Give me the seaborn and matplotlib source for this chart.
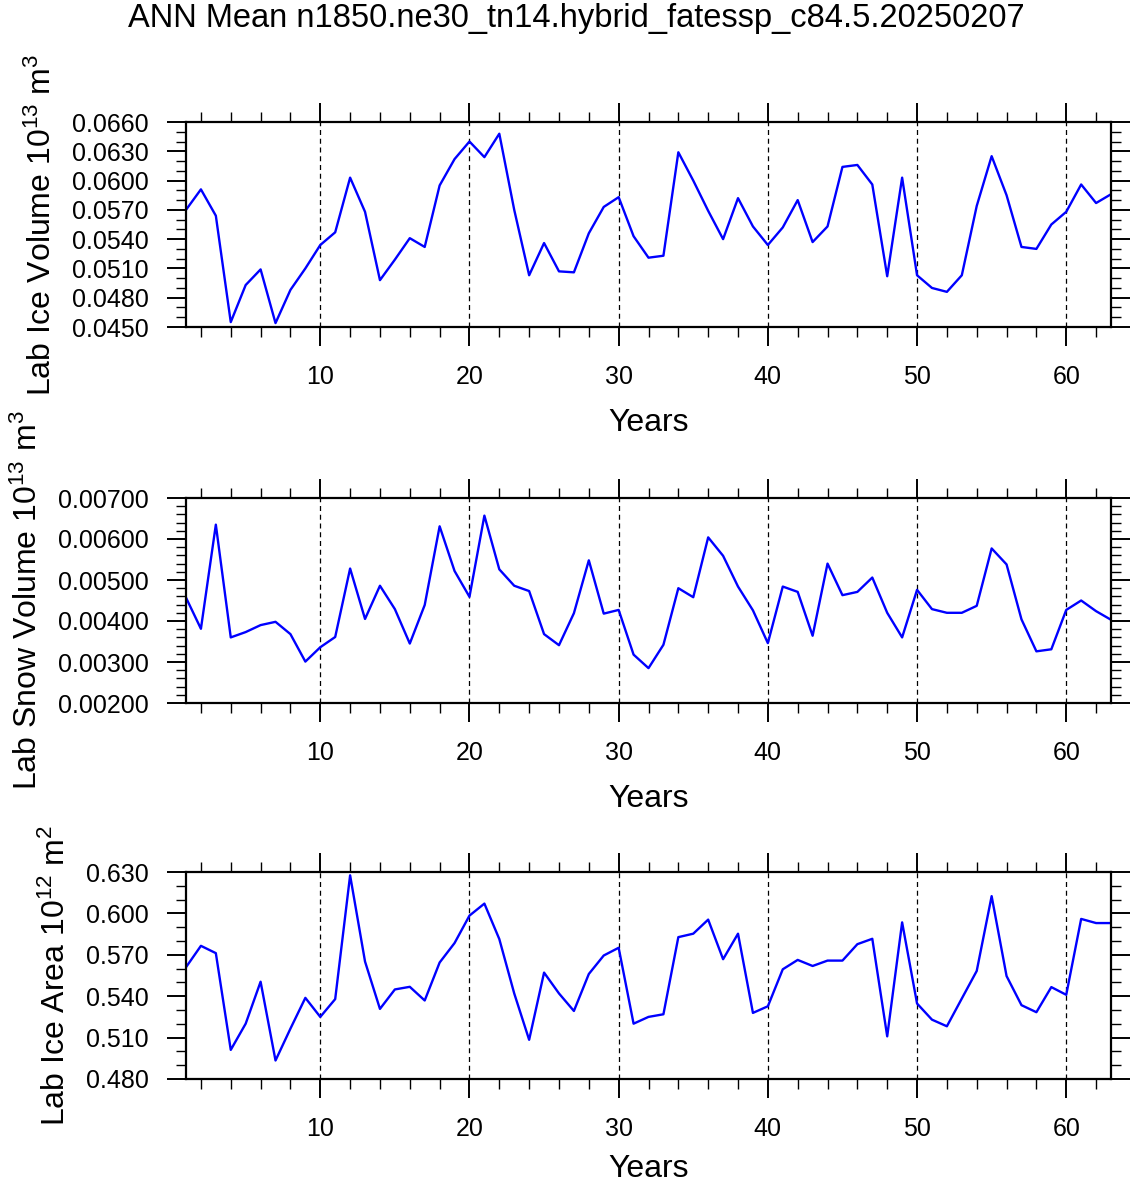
import numpy as np
import matplotlib
matplotlib.use("Agg")
import matplotlib.pyplot as plt
from matplotlib.ticker import FormatStrFormatter
import seaborn as sns

title = "ANN Mean n1850.ne30_tn14.hybrid_fatessp_c84.5.20250207"

years = list(range(1, 64))

ice_volume = [
    0.0570, 0.0591, 0.0564, 0.0455, 0.0493, 0.0509, 0.0454, 0.0488, 0.0510, 0.0534,
    0.0547, 0.0603, 0.0568, 0.0498, 0.0519, 0.0541, 0.0532, 0.0595, 0.0622, 0.0640,
    0.0624, 0.0648, 0.0570, 0.0503, 0.0536, 0.0507, 0.0506, 0.0546, 0.0573, 0.0583,
    0.0543, 0.0521, 0.0523, 0.0629, 0.0600, 0.0569, 0.0540, 0.0582, 0.0553, 0.0534,
    0.0552, 0.0580, 0.0537, 0.0553, 0.0614, 0.0616, 0.0596, 0.0502, 0.0603, 0.0503,
    0.0490, 0.0486, 0.0503, 0.0574, 0.0625, 0.0585, 0.0532, 0.0530, 0.0555, 0.0568,
    0.0596, 0.0577, 0.0586,
]

snow_volume = [
    0.00457, 0.00381, 0.00635, 0.00360, 0.00373, 0.00390, 0.00398, 0.00368, 0.00301, 0.00336,
    0.00361, 0.00528, 0.00405, 0.00486, 0.00429, 0.00345, 0.00439, 0.00631, 0.00522, 0.00459,
    0.00657, 0.00526, 0.00486, 0.00473, 0.00368, 0.00341, 0.00419, 0.00548, 0.00418, 0.00427,
    0.00318, 0.00285, 0.00342, 0.00480, 0.00458, 0.00604, 0.00559, 0.00484, 0.00426, 0.00346,
    0.00484, 0.00471, 0.00364, 0.00540, 0.00463, 0.00471, 0.00506, 0.00420, 0.00360, 0.00476,
    0.00429, 0.00420, 0.00420, 0.00437, 0.00577, 0.00538, 0.00404, 0.00326, 0.00331, 0.00427,
    0.00450, 0.00424, 0.00403,
]

ice_area = [
    0.5610, 0.5765, 0.5712, 0.5011, 0.5201, 0.5505, 0.4934, 0.5165, 0.5388, 0.5250,
    0.5379, 0.6276, 0.5651, 0.5308, 0.5449, 0.5468, 0.5369, 0.5644, 0.5785, 0.5984,
    0.6071, 0.5814, 0.5420, 0.5084, 0.5571, 0.5420, 0.5293, 0.5561, 0.5695, 0.5751,
    0.5201, 0.5250, 0.5269, 0.5828, 0.5853, 0.5955, 0.5668, 0.5853, 0.5279, 0.5327,
    0.5595, 0.5663, 0.5619, 0.5658, 0.5658, 0.5777, 0.5816, 0.5109, 0.5935, 0.5347,
    0.5230, 0.5182, 0.5383, 0.5583, 0.6125, 0.5546, 0.5335, 0.5284, 0.5466, 0.5410,
    0.5960, 0.5930, 0.5930,
]

# (values, y label, y range, major step, minor step, tick format)
panels = [
    (ice_volume, "Lab Ice Volume 10$^{13}$ m$^{3}$", (0.045, 0.066), 0.003, 0.001, "%.4f"),
    (snow_volume, "Lab Snow Volume 10$^{13}$ m$^{3}$", (0.002, 0.007), 0.001, 0.0002, "%.5f"),
    (ice_area, "Lab Ice Area 10$^{12}$ m$^{2}$", (0.48, 0.63), 0.03, 0.01, "%.3f"),
]


def plot_panel(ax, values, ylabel, yrange, major, minor, fmt, xpad):
    sns.lineplot(x = years, y = values, ax = ax, color = "#0000ff", linewidth = 1.7)
    lo, hi = yrange
    ax.set_xlim(1, 63)
    ax.set_ylim(lo, hi)
    ax.set_xticks(np.arange(10, 61, 10))
    ax.set_xticks(np.arange(2, 63, 2), minor = True)
    ax.set_yticks(np.linspace(lo, hi, int(round((hi - lo) / major)) + 1))
    ax.set_yticks(np.linspace(lo, hi, int(round((hi - lo) / minor)) + 1), minor = True)
    ax.yaxis.set_major_formatter(FormatStrFormatter(fmt))
    ax.tick_params(which = "both", direction = "out", top = True, right = True,
                   labeltop = False, labelright = False, color = "black")
    ax.tick_params(which = "major", length = 14, width = 1.4, pad = 13, labelsize = 18)
    ax.tick_params(which = "minor", length = 7, width = 1.0)
    ax.grid(axis = "x", which = "major", color = "black", linewidth = 0.9,
            linestyle = (0, (4, 3)))
    for sp in ax.spines.values():
        sp.set_linewidth(1.6)
        sp.set_color("black")
    ax.set_xlabel("Years", fontsize = 23, labelpad = xpad)
    ax.set_ylabel(ylabel, fontsize = 23, labelpad = 10)


def main():
    sns.set_theme(style = "ticks")
    plt.rcParams["font.family"] = ["Liberation Sans", "DejaVu Sans"]
    plt.rcParams["mathtext.default"] = "regular"
    plt.rcParams["text.color"] = "black"
    plt.rcParams["axes.labelcolor"] = "black"
    plt.rcParams["xtick.color"] = "black"
    plt.rcParams["ytick.color"] = "black"

    W, H = 1136, 1188
    fig = plt.figure(figsize = (W / 100, H / 100), dpi = 100)
    left, right = 186, 1111
    tops = [122, 498, 872]
    heights = [205, 205, 207]
    xpads = [14, 14, 10]
    for (vals, lab, yr, mj, mn, fmt), top, h, xp in zip(panels, tops, heights, xpads):
        ax = fig.add_axes([left / W, 1 - (top + h) / H, (right - left) / W, h / H])
        plot_panel(ax, vals, lab, yr, mj, mn, fmt, xp)

    fig.text(576 / W, 1 - 18 / H, title, ha = "center", va = "center", fontsize = 23.5)
    fig.savefig("out.png", dpi = 100)
    plt.close(fig)


if __name__ == "__main__":
    main()
